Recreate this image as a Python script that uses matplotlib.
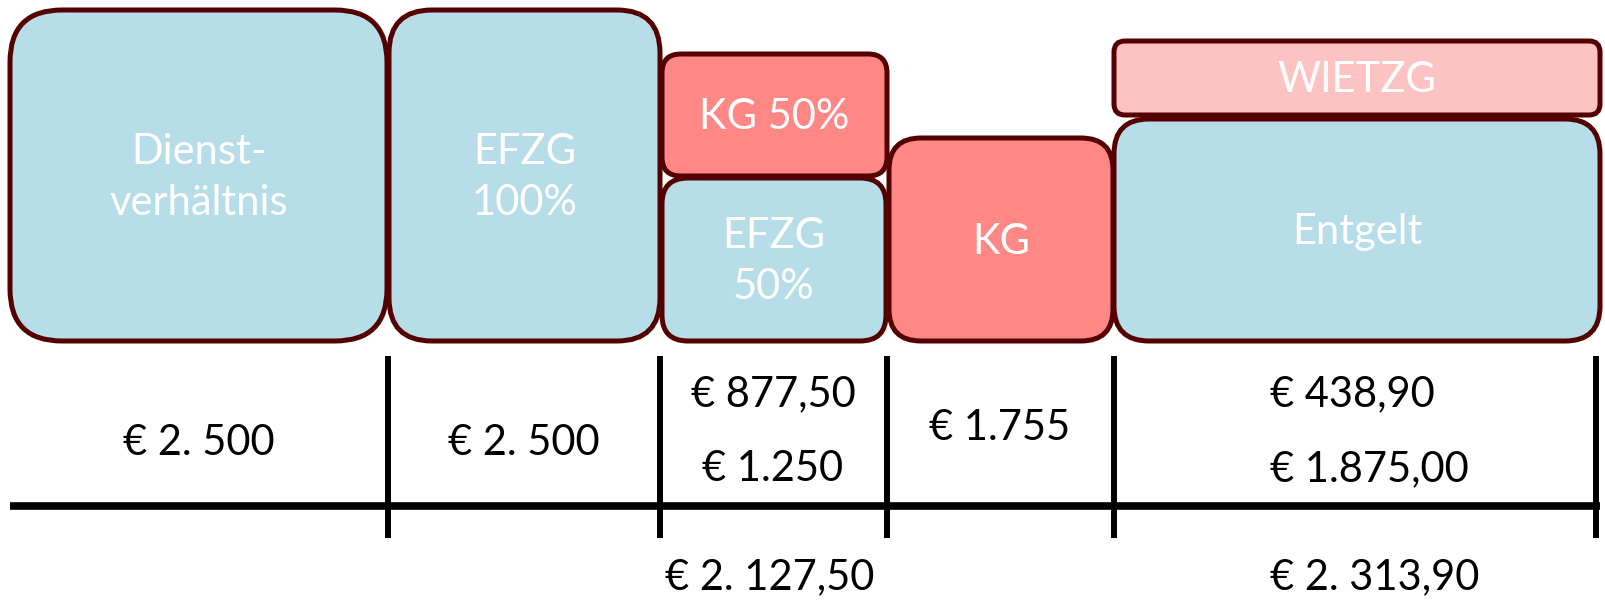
import matplotlib
matplotlib.use("Agg")
from matplotlib import pyplot as plt
from matplotlib.patches import FancyBboxPatch

##### data

box_labels = ["Dienst-\nverhältnis", "EFZG\n100%", "KG 50%", "EFZG\n50%", "KG", "WIETZG", "Entgelt"]
box_kinds = ["blue", "blue", "red", "blue", "red", "pink", "blue"]

amounts_col1 = ["€ 2. 500"]
amounts_col2 = ["€ 2. 500"]
amounts_col3 = ["€ 877,50", "€ 1.250"]
amounts_col4 = ["€ 1.755"]
amounts_col5 = ["€ 438,90", "€ 1.875,00"]

totals = ["€ 2. 127,50", "€ 2. 313,90"]

##### layout (pixel coords, y down)

# x0, y0, x1, y1 for each box
box_pos = [(10, 10, 387, 341),
           (389, 10, 660, 341),
           (662, 54, 887, 176),
           (662, 178, 886, 341),
           (889, 138, 1113, 341),
           (1114, 41, 1600, 115),
           (1114, 119, 1600, 341)]

colours = {"blue": "#b7dde8", "red": "#ff8785", "pink": "#fdc2c2"}
edge = "#540000"

sep_x = [388, 660, 887, 1114, 1596]

plt.rcParams["font.family"] = ["Lato", "DejaVu Sans"]

fig = plt.figure(figsize=(16.06, 6.0), dpi=100)
ax = fig.add_axes([0, 0, 1, 1])
ax.set_xlim(0, 1606)
ax.set_ylim(600, 0)
ax.axis("off")

for i in range(len(box_labels)):
    x0, y0, x1, y1 = box_pos[i]
    w = x1 - x0
    h = y1 - y0
    r = 0.16 * min(w, h)
    patch = FancyBboxPatch((x0, y0), w, h,
                           boxstyle="round,pad=0,rounding_size=%d" % r,
                           facecolor=colours[box_kinds[i]], edgecolor=edge, linewidth=3.6)
    ax.add_patch(patch)
    ax.text((x0 + x1) / 2, (y0 + y1) / 2 + 2, box_labels[i], color="white",
            fontsize=30, ha="center", va="center", linespacing=1.45)

# baseline and separators
ax.plot([10, 1600], [506, 506], color="black", linewidth=5.5, solid_capstyle="butt")
for x in sep_x:
    ax.plot([x, x], [356, 538], color="black", linewidth=4.3, solid_capstyle="butt")

# amounts
ax.text(199, 443, amounts_col1[0], fontsize=30, ha="center", va="center")
ax.text(524, 443, amounts_col2[0], fontsize=30, ha="center", va="center")
ax.text(773, 394, amounts_col3[0], fontsize=30, ha="center", va="center")
ax.text(773, 469, amounts_col3[1], fontsize=30, ha="center", va="center")
ax.text(1000, 428, amounts_col4[0], fontsize=30, ha="center", va="center")
ax.text(1270, 394, amounts_col5[0], fontsize=30, ha="left", va="center")
ax.text(1270, 469, amounts_col5[1], fontsize=30, ha="left", va="center")

ax.text(770, 577, totals[0], fontsize=30, ha="center", va="center")
ax.text(1270, 577, totals[1], fontsize=30, ha="left", va="center")

fig.savefig("out.png", dpi=100)
